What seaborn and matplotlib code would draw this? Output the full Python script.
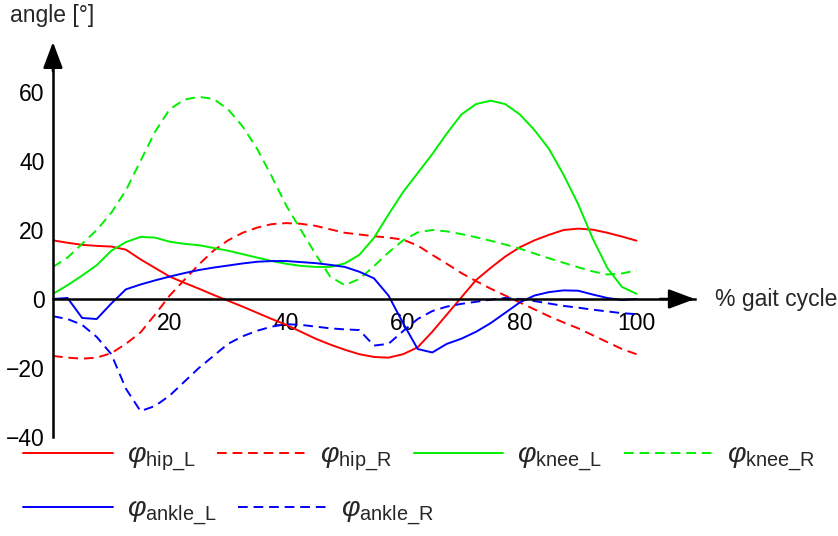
import pandas as pd
import matplotlib.pyplot as plt
import seaborn as sns

# gait cycle samples (%)
pct = [0, 2.5, 5, 7.5, 10, 12.5, 15, 17.5, 20, 22.5, 25, 27.5, 30, 32.5, 35, 37.5,
       40, 42.5, 45, 47.5, 50, 52.5, 55, 57.5, 60, 62.5, 65, 67.5, 70, 72.5, 75,
       77.5, 80, 82.5, 85, 87.5, 90, 92.5, 95, 97.5, 100]

hip_L = [17, 16.3, 15.7, 15.4, 15.2, 14.3, 11.5, 9, 6.5, 4.7, 3, 1.2, -0.5, -2.2,
         -4, -5.8, -7.5, -9.5, -11.5, -13.2, -14.7, -16, -16.8, -17, -16, -14,
         -9.5, -4.5, 0.5, 5.5, 9, 12.3, 15, 17, 18.6, 20, 20.4, 20.1, 19.2, 18.1, 16.9]
hip_R = [-16.5, -17, -17.3, -17, -15.7, -13, -9.7, -4.5, 1, 5.5, 10, 14, 17, 19.2,
         20.7, 21.7, 22, 21.8, 21.2, 20.2, 19.2, 18.7, 18.2, 17.8, 17.2, 15.5, 12.8,
         10.2, 7.5, 5.2, 3, 1, -1, -3, -5, -6.8, -8.5, -10.5, -12.5, -14.5, -16]
knee_L = [1.5, 4, 6.8, 9.8, 14, 16.5, 18, 17.8, 16.6, 16, 15.6, 14.8, 14, 13, 12,
          11, 10.2, 9.6, 9.3, 9.3, 10.3, 12.8, 17.7, 24.5, 31, 36.5, 42, 48, 53.5,
          56.5, 57.5, 56.5, 53.5, 49, 43.5, 36, 27.5, 17.5, 9, 3.5, 1.5]
knee_R = [9.3, 12, 16, 20, 25, 31.5, 40, 48.5, 55, 57.8, 58.6, 58, 55, 50, 43.5,
          35.5, 27, 20, 13, 6.5, 4, 5.8, 9.5, 13.5, 17, 19.3, 20, 19.6, 18.8, 17.9,
          16.9, 15.8, 14.6, 13.2, 11.8, 10.5, 9.2, 8, 7.1, 7.4, 8.3]
ankle_L = [0, 0.3, -5.5, -5.8, -1.3, 2.8, 4.2, 5.4, 6.5, 7.5, 8.4, 9.1, 9.7, 10.3,
           10.8, 11, 11, 10.7, 10.4, 9.9, 9.3, 7.9, 6, 1, -7, -14.5, -15.5, -13,
           -11.5, -9.5, -7, -4, -1, 1, 2, 2.5, 2.4, 1.3, 0.3, -0.3, 0]
ankle_R = [-5, -5.8, -7.5, -11, -16, -26, -32.5, -31, -28, -24, -20, -16.5, -13,
           -10.8, -9.2, -8, -7.3, -7.5, -8, -8.5, -8.8, -9, -13.5, -13, -9.3, -5.8,
           -3.5, -2.2, -1.4, -0.8, -0.2, 0.3, 0, -0.6, -1.3, -2, -2.5, -3.1, -3.6,
           -4.1, -4.4]

series = ['hip_L', 'hip_R', 'knee_L', 'knee_R', 'ankle_L', 'ankle_R']
values = [hip_L, hip_R, knee_L, knee_R, ankle_L, ankle_R]
colors = ['#ff0000', '#ff0000', '#00f000', '#00f000', '#0000ff', '#0000ff']
labels = [r'$\varphi_{\mathrm{hip\_L}}$', r'$\varphi_{\mathrm{hip\_R}}$',
          r'$\varphi_{\mathrm{knee\_L}}$', r'$\varphi_{\mathrm{knee\_R}}$',
          r'$\varphi_{\mathrm{ankle\_L}}$', r'$\varphi_{\mathrm{ankle\_R}}$']

df = pd.concat([pd.DataFrame({'pct': pct, 'angle': v, 'series': s})
                for s, v in zip(series, values)], ignore_index=True)

sns.set_theme(style='white')
plt.rcParams['font.family'] = ['Liberation Sans', 'DejaVu Sans']
plt.rcParams['mathtext.fontset'] = 'custom'
plt.rcParams['mathtext.rm'] = 'Liberation Sans'
plt.rcParams['mathtext.it'] = 'Liberation Sans:italic'

fig = plt.figure(figsize=(8.38, 5.36), dpi=100)
ax = fig.add_axes([0.0632, 0.1847, 0.766, 0.708])

dash_map = {s: ('' if s.endswith('_L') else (5, 3)) for s in series}
sns.lineplot(data=df, x='pct', y='angle', hue='series', style='series',
             hue_order=series, style_order=series,
             palette=dict(zip(series, colors)), dashes=dash_map,
             estimator=None, linewidth=1.4, legend=False, ax=ax)

ax.set_xlim(0, 110)
ax.set_ylim(-40, 70)
ax.set_xlabel('')
ax.set_ylabel('')
ax.set_xticks([20, 40, 60, 80, 100])
ax.set_yticks([-40, -20, 0, 20, 40, 60])

for side in ['top', 'right']:
    ax.spines[side].set_visible(False)
ax.spines['bottom'].set_position(('data', 0))
ax.spines['left'].set_position(('data', 0))
for side in ['bottom', 'left']:
    ax.spines[side].set_color('black')
    ax.spines[side].set_linewidth(1.8)

ax.tick_params(axis='both', direction='in', length=4, width=1.4, colors='black',
               labelsize=16.5)
ax.tick_params(axis='x', pad=9)
ax.tick_params(axis='y', pad=6)

head = '-|>,head_length=0.8,head_width=0.3'
ax.annotate('', xy=(110, 0), xytext=(104, 0),
            arrowprops=dict(arrowstyle=head, color='black', lw=1.8,
                            mutation_scale=20, shrinkA=0, shrinkB=0),
            annotation_clip=False)
ax.annotate('', xy=(0, 74.5), xytext=(0, 66),
            arrowprops=dict(arrowstyle=head, color='black', lw=1.8,
                            mutation_scale=20, shrinkA=0, shrinkB=0),
            annotation_clip=False)

ax.text(113.4, 0, '% gait cycle', fontsize=16.5, va='center', ha='left',
        clip_on=False)
fig.text(0.012, 0.972, 'angle [°]', fontsize=16.5, va='center', ha='left')

lines = ax.get_lines()[:6]
kw = dict(frameon=False, fontsize=20.5, handlelength=3.14, handletextpad=0.48,
          columnspacing=0.77, borderpad=0, borderaxespad=0, loc='center left')
leg1 = fig.legend(lines[:4], labels[:4], ncol=4, bbox_to_anchor=(0.028, 0.1455), **kw)
fig.legend(lines[4:], labels[4:], ncol=2, bbox_to_anchor=(0.028, 0.0448), **kw)

fig.savefig('out.png', dpi=100)
